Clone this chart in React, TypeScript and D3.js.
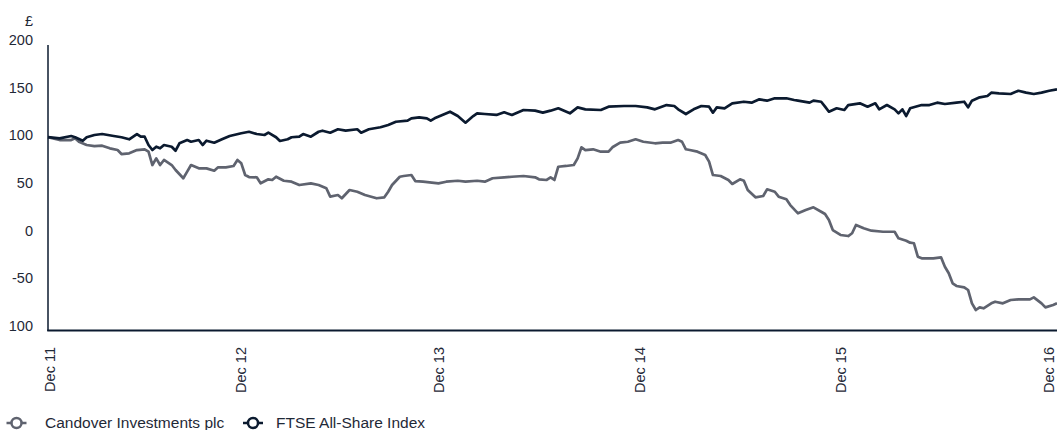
import * as d3 from "d3";

// weekly samples: [week since 30 Dec 2011, value]
const ftse: [number, number][] = [
  [0, 100], [3, 98.8], [6, 101.2], [7, 99.9], [9, 96.3], [10, 99.9], [12, 102.3], [14, 103.3],
  [17, 101.2], [19, 99.9], [21, 97.8], [23, 103.3], [24, 100.5], [25, 100.5], [26, 91.8], [27, 86.5],
  [28, 90.0], [29, 88.3], [30, 91.8], [32, 90.0], [33, 85.8], [34, 93.6], [36, 97.0], [37, 95.2],
  [39, 97.0], [40, 91.8], [41, 96.3], [43, 94.2], [45, 97.8], [47, 101.2], [50, 104.1], [52, 105.7],
  [54, 103.3], [56, 102.3], [57, 104.7], [59, 99.9], [60, 96.0], [62, 97.8], [63, 99.9], [65, 100.5],
  [66, 103.3], [68, 100.5], [70, 105.7], [71, 106.8], [73, 104.7], [75, 108.3], [77, 106.8], [80, 108.3],
  [81, 104.7], [83, 108.3], [86, 110.4], [88, 112.8], [90, 116.2], [93, 117.3], [94, 119.8], [96, 120.8],
  [98, 119.8], [99, 117.3], [100, 119.8], [102, 123.3], [104, 126.7], [106, 122.2], [108, 115.2], [110, 122.2],
  [111, 125.0], [113, 124.3], [116, 123.3], [118, 126.1], [120, 123.3], [123, 128.5], [126, 127.8], [128, 125.7],
  [130, 127.8], [132, 130.3], [135, 125.0], [137, 131.3], [139, 129.2], [143, 128.5], [145, 132.0], [149, 132.7],
  [152, 132.7], [155, 131.3], [157, 129.2], [160, 133.7], [162, 132.7], [163, 129.2], [165, 124.3], [167, 129.2],
  [169, 132.7], [171, 132.0], [172, 125.7], [173, 131.3], [175, 130.3], [177, 135.5], [180, 137.2], [182, 136.2],
  [184, 139.7], [186, 138.3], [188, 140.8], [191, 140.8], [193, 139.0], [194, 138.3], [197, 136.2], [198, 138.3],
  [200, 137.2], [201, 132.0], [202, 126.7], [204, 130.3], [206, 128.5], [207, 133.7], [210, 135.5], [212, 132.0],
  [214, 135.5], [215, 129.2], [217, 133.7], [219, 129.2], [220, 125.0], [221, 129.2], [222, 122.2], [223, 130.3],
  [226, 133.7], [228, 133.7], [230, 136.2], [232, 134.8], [235, 136.2], [237, 137.2], [238, 131.3], [239, 138.3],
  [241, 141.8], [243, 143.2], [244, 146.7], [246, 146.0], [249, 145.3], [251, 148.7], [253, 146.7], [255, 145.3],
  [257, 146.7], [259, 148.7], [261, 150.2],
];

const candover: [number, number][] = [
  [0, 100], [3, 97.0], [6, 97.0], [7, 98.8], [8, 95.2], [10, 91.8], [12, 90.7], [14, 91.1],
  [16, 88.3], [18, 86.5], [19, 82.3], [21, 83.1], [23, 86.5], [25, 87.3], [26, 84.8], [27, 70.8],
  [28, 77.8], [29, 70.8], [30, 76.1], [32, 70.8], [33, 65.6], [35, 56.9], [36, 63.8], [37, 70.8],
  [39, 67.3], [41, 67.3], [43, 64.8], [44, 68.4], [46, 68.4], [48, 69.8], [49, 76.1], [50, 72.6],
  [51, 60.3], [52, 58.2], [54, 57.9], [55, 51.6], [57, 55.8], [58, 55.1], [59, 58.5], [61, 54.3],
  [63, 53.3], [65, 49.8], [68, 51.6], [70, 49.8], [72, 46.4], [73, 37.6], [75, 39.3], [76, 35.9],
  [78, 44.6], [80, 42.8], [82, 39.3], [85, 35.9], [87, 36.9], [88, 42.8], [89, 49.8], [91, 58.5],
  [92, 59.3], [94, 60.3], [95, 54.0], [97, 53.3], [101, 51.6], [103, 53.3], [106, 54.3], [108, 53.3],
  [111, 54.3], [113, 53.3], [115, 56.9], [118, 57.9], [120, 58.5], [123, 59.3], [126, 57.9], [127, 55.8],
  [129, 55.1], [130, 57.9], [131, 55.1], [132, 69.0], [134, 69.8], [136, 70.8], [137, 77.8], [138, 89.4],
  [139, 86.5], [141, 87.3], [143, 84.8], [145, 84.8], [146, 89.4], [148, 94.2], [150, 95.2], [152, 97.8],
  [154, 95.2], [157, 93.6], [159, 94.2], [161, 94.2], [163, 97.0], [164, 95.2], [165, 87.3], [166, 86.5],
  [168, 84.8], [170, 81.3], [171, 74.3], [172, 60.3], [174, 59.3], [176, 55.1], [177, 50.9], [179, 55.8],
  [180, 54.3], [181, 44.6], [183, 36.9], [185, 38.3], [186, 45.3], [188, 42.8], [189, 37.6], [191, 34.8],
  [192, 28.8], [194, 20.1], [196, 23.6], [198, 26.4], [200, 21.8], [201, 19.4], [202, 13.1], [203, 2.6],
  [205, -2.6], [207, -3.7], [208, -0.8], [209, 7.9], [211, 4.4], [213, 1.9], [216, 0.8], [219, 0.8],
  [220, -6.1], [222, -8.6], [223, -10.7], [224, -11.3], [225, -25.4], [226, -27.1], [229, -27.1], [231, -26.0],
  [232, -35.9], [233, -42.8], [234, -53.3], [235, -56.1], [237, -57.5], [238, -60.3], [239, -74.3], [240, -81.3],
  [241, -78.5], [242, -79.5], [244, -74.3], [245, -72.6], [247, -74.3], [249, -70.8], [251, -70.1], [254, -70.1],
  [255, -68.0], [257, -74.3], [258, -78.5], [260, -76.1], [261, -74.3],
];

const yTicks = [200, 150, 100, 50, 0, -50, -100];
const yTickLabels = ["200", "150", "100", "50", "0", "-50", "100"];
const xTickWeeks = [0, 50, 101, 153, 205, 259];

const seriesNames = ["Candover Investments plc", "FTSE All-Share Index"];

const W = 1057;
const H = 430;
const NAVY = "#0b1a2f";
const GREY = "#5f636f";
const TEXT = "#1f2937";
const FONT = "'Liberation Sans', Arial, sans-serif";

const start = new Date(2011, 11, 30);
const weekDate = (w: number) => d3.timeDay.offset(start, w * 7);

export default function App() {
  const x = d3
    .scaleTime()
    .domain([weekDate(0), weekDate(261)])
    .range([48, 1057]);
  const y = d3.scaleLinear().domain([-102.8, 196.7]).range([330.5, 45]);

  const line = d3
    .line<[number, number]>()
    .x((d) => x(weekDate(d[0])))
    .y((d) => y(d[1]));

  const fmt = d3.timeFormat("%b %y");

  const legend = [
    { name: seriesNames[0], color: GREY, mx: 16.5, tx: 45 },
    { name: seriesNames[1], color: NAVY, mx: 253, tx: 276 },
  ];

  return (
    <svg
      width={W}
      height={H}
      style={{ position: "absolute", left: 0, top: 0, fontFamily: FONT }}
    >
      <rect width={W} height={H} fill="#fff" />
      {/* y labels */}
      <text x={33} y={21} dy="0.35em" textAnchor="end" fontSize={14.5} fill={TEXT}>
        £
      </text>
      {yTicks.map((t, i) => (
        <text
          key={t}
          x={33}
          y={y(t) - 2}
          dy="0.35em"
          textAnchor="end"
          fontSize={14.5}
          fill={TEXT}
        >
          {yTickLabels[i]}
        </text>
      ))}

      {/* x labels */}
      {xTickWeeks.map((w) => {
        const px = Math.max(x(weekDate(w)), 49.5);
        return (
          <text
            key={w}
            transform={`translate(${px},347) rotate(-90)`}
            dy="0.35em"
            textAnchor="end"
            fontSize={14.5}
            fill={TEXT}
          >
            {fmt(weekDate(w))}
          </text>
        );
      })}

      <path d={line(candover) || ""} fill="none" stroke={GREY} strokeWidth={2.7} strokeLinejoin="round" />
      <path d={line(ftse) || ""} fill="none" stroke={NAVY} strokeWidth={2.7} strokeLinejoin="round" />

      {/* axes */}
      <line x1={48} x2={48} y1={45} y2={331} stroke={NAVY} strokeWidth={1.5} />
      <line x1={47.25} x2={W} y1={330.5} y2={330.5} stroke={NAVY} strokeWidth={2} />

      {/* legend */}
      {legend.map((l) => (
        <g key={l.name}>
          <line x1={l.mx - 10} x2={l.mx + 10} y1={423} y2={423} stroke={l.color} strokeWidth={2.5} />
          <circle cx={l.mx} cy={423} r={5} fill="#fff" stroke={l.color} strokeWidth={2.5} />
          <text x={l.tx} y={423} dy="0.35em" fontSize={15.5} fill={TEXT}>
            {l.name}
          </text>
        </g>
      ))}
    </svg>
  );
}
